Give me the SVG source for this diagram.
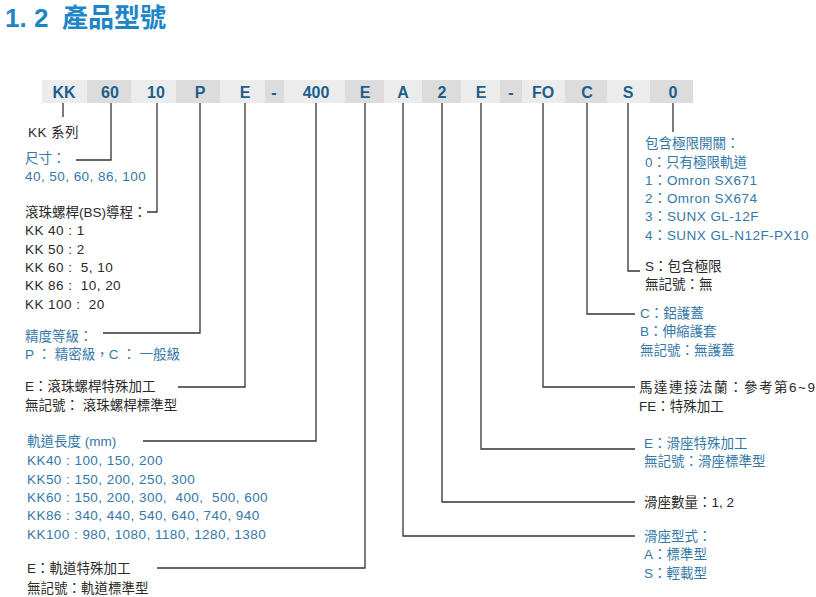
<svg xmlns="http://www.w3.org/2000/svg" width="816" height="597" viewBox="0 0 816 597">
<style>
text{font-family:"Liberation Sans","Noto Sans CJK TC",sans-serif;white-space:pre;}
.title{font-size:26px;font-weight:bold;fill:#1e86c6;}
.seg{font-size:16px;font-weight:bold;fill:#1c5f8d;text-anchor:middle;}
.lt{fill:#ececec;}
.dk{fill:#dcdcdc;}
.t{font-size:13.5px;}
.w{letter-spacing:0.45px;}
.k{fill:#2a2a2a;}
.b{fill:#3478a8;}
.c{fill:none;stroke:#333;stroke-width:1.3;}
</style>
<rect width="816" height="597" fill="#fff"/>
<g id="title"><text class="title" x="5" y="27">1. 2</text><text class="title" x="62" y="27">產品型號</text></g>
<g id="code">
<g id="s-kk"><rect class="lt" x="42" y="80" width="45" height="23"/><text class="seg" x="64" y="98">KK</text></g>
<g id="s-60"><rect class="dk" x="87" y="80" width="44" height="23"/><text class="seg" x="110" y="98">60</text></g>
<g id="s-10"><rect class="lt" x="131" y="80" width="45" height="23"/><text class="seg" x="156" y="98">10</text></g>
<g id="s-p"><rect class="dk" x="176" y="80" width="44" height="23"/><text class="seg" x="200" y="98">P</text></g>
<g id="s-e1"><rect class="lt" x="220" y="80" width="45" height="23"/><text class="seg" x="245" y="98">E</text></g>
<g id="s-d1"><rect class="dk" x="265" y="80" width="19" height="23"/><text class="seg" x="274" y="98">-</text></g>
<g id="s-400"><rect class="lt" x="284" y="80" width="61" height="23"/><text class="seg" x="316" y="98">400</text></g>
<g id="s-e2"><rect class="dk" x="345" y="80" width="39" height="23"/><text class="seg" x="365" y="98">E</text></g>
<g id="s-a"><rect class="lt" x="384" y="80" width="38" height="23"/><text class="seg" x="403" y="98">A</text></g>
<g id="s-2"><rect class="dk" x="422" y="80" width="39" height="23"/><text class="seg" x="442" y="98">2</text></g>
<g id="s-e3"><rect class="lt" x="461" y="80" width="39" height="23"/><text class="seg" x="481" y="98">E</text></g>
<g id="s-d2"><rect class="dk" x="500" y="80" width="22" height="23"/><text class="seg" x="511" y="98">-</text></g>
<g id="s-fo"><rect class="lt" x="522" y="80" width="43" height="23"/><text class="seg" x="543" y="98">FO</text></g>
<g id="s-c"><rect class="dk" x="565" y="80" width="42" height="23"/><text class="seg" x="587" y="98">C</text></g>
<g id="s-s"><rect class="lt" x="607" y="80" width="43" height="23"/><text class="seg" x="628" y="98">S</text></g>
<g id="s-0"><rect class="dk" x="650" y="80" width="43" height="23"/><text class="seg" x="673" y="98">0</text></g>
</g>
<g id="connectors">
<path class="c" d="M63 103V117"/>
<path class="c" d="M111 103V160H76"/>
<path class="c" d="M157 103V212H147"/>
<path class="c" d="M200 103V333H103"/>
<path class="c" d="M245 103V387H178"/>
<path class="c" d="M316 103V441H143"/>
<path class="c" d="M365 103V568H157"/>
<path class="c" d="M403 103V536H635"/>
<path class="c" d="M442 103V502H635"/>
<path class="c" d="M481 103V449H635"/>
<path class="c" d="M543 103V387H635"/>
<path class="c" d="M587 103V314H635"/>
<path class="c" d="M628 103V271H640"/>
<path class="c" d="M673 103V132"/>
</g>
<g id="n-series"><text class="t k w" x="28" y="137">KK 系列</text></g>
<g id="n-size"><text class="t b" x="25" y="163">尺寸：</text><text class="t b w" x="25" y="181">40, 50, 60, 86, 100</text></g>
<g id="n-lead"><text class="t k" x="25" y="217">滾珠螺桿(BS)導程：</text>
<text class="t k w" x="25" y="235">KK 40 : 1</text>
<text class="t k w" x="25" y="254">KK 50 : 2</text>
<text class="t k w" x="25" y="272">KK 60 :  5, 10</text>
<text class="t k w" x="25" y="290">KK 86 :  10, 20</text>
<text class="t k w" x="25" y="309">KK 100 :  20</text></g>
<g id="n-grade"><text class="t b" x="25" y="341">精度等級：</text><text class="t b" x="25" y="359">P ： 精密級，C ： 一般級</text></g>
<g id="n-bs"><text class="t k" x="25" y="391">E：滾珠螺桿特殊加工</text><text class="t k" x="25" y="410">無記號： 滾珠螺桿標準型</text></g>
<g id="n-length"><text class="t b" x="27" y="446">軌道長度 (mm)</text>
<text class="t b w" x="27" y="465">KK40 : 100, 150, 200</text>
<text class="t b w" x="27" y="484">KK50 : 150, 200, 250, 300</text>
<text class="t b w" x="27" y="502">KK60 : 150, 200, 300,  400,  500, 600</text>
<text class="t b w" x="27" y="520">KK86 : 340, 440, 540, 640, 740, 940</text>
<text class="t b w" x="27" y="539">KK100 : 980, 1080, 1180, 1280, 1380</text></g>
<g id="n-rail"><text class="t k" x="27" y="573">E：軌道特殊加工</text><text class="t k" x="27" y="593">無記號：軌道標準型</text></g>
<g id="n-switch"><text class="t b" x="645" y="148">包含極限開關：</text>
<text class="t b" x="645" y="167">0：只有極限軌道</text>
<text class="t b w" x="645" y="185">1：Omron SX671</text>
<text class="t b w" x="645" y="203">2：Omron SX674</text>
<text class="t b w" x="645" y="221">3：SUNX GL-12F</text>
<text class="t b w" x="645" y="240">4：SUNX GL-N12F-PX10</text></g>
<g id="n-limit"><text class="t k" x="645" y="271">S：包含極限</text><text class="t k" x="645" y="289">無記號：無</text></g>
<g id="n-cover"><text class="t b" x="640" y="318">C：鋁護蓋</text><text class="t b" x="640" y="336">B：伸縮護套</text><text class="t b" x="640" y="355">無記號：無護蓋</text></g>
<g id="n-flange"><text class="t k" x="639" y="392" style="letter-spacing:1.5px">馬達連接法蘭：參考第6~9</text><text class="t k" x="639" y="411">FE：特殊加工</text></g>
<g id="n-block"><text class="t b" x="644" y="448">E：滑座特殊加工</text><text class="t b" x="644" y="466">無記號：滑座標準型</text></g>
<g id="n-qty"><text class="t k" x="644" y="507">滑座數量：1, 2</text></g>
<g id="n-type"><text class="t b" x="644" y="541">滑座型式：</text><text class="t b" x="644" y="559">A：標準型</text><text class="t b" x="644" y="578">S：輕載型</text></g>
</svg>
